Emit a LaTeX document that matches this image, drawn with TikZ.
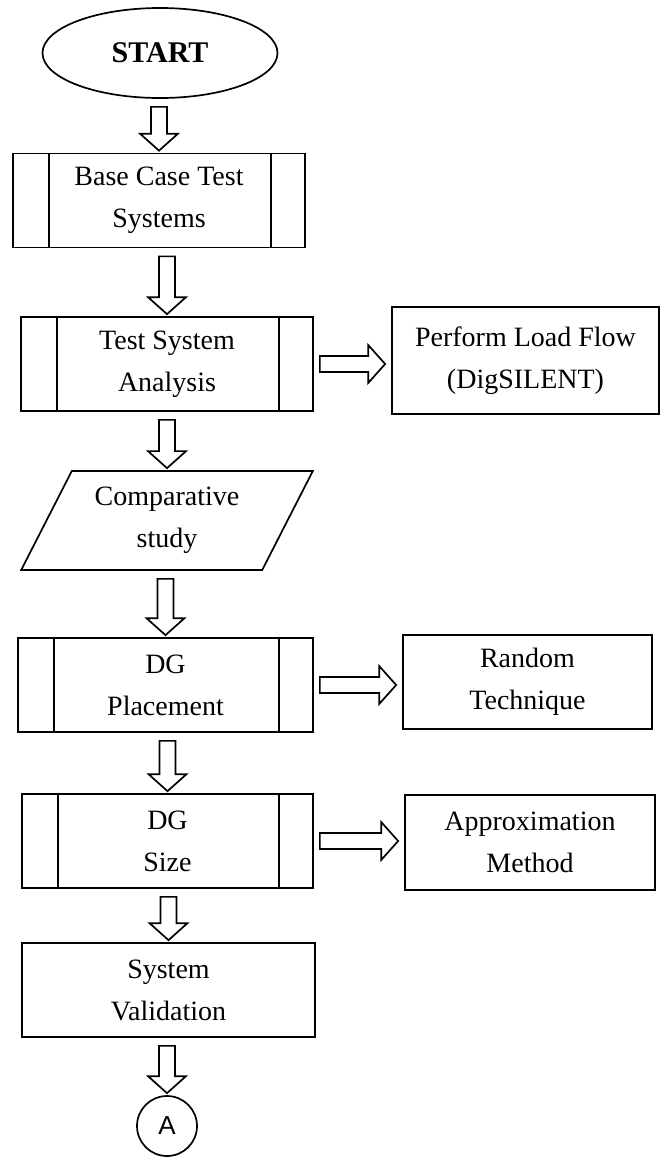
\documentclass[tikz,border=0pt]{standalone}
\usepackage{fontspec}
\setmainfont{Liberation Serif}
\newfontfamily\arialfont{Liberation Sans}
\usetikzlibrary{shapes.geometric,calc}

\newcommand\boxfont{\fontsize{14}{21}\selectfont}
% hollow block arrow pointing down, from #1 to #2
\newcommand\flowdown[2]{%
  \draw[flowline] let \p1=([yshift=-4pt]#1.south), \p2=([yshift=1pt]#2.north) in
    (\x2-4pt,\y1) -- (\x2-4pt,\y2+8.5pt) -- (\x2-9.5pt,\y2+8.5pt) -- (\x2,\y2)
    -- (\x2+9.5pt,\y2+8.5pt) -- (\x2+4pt,\y2+8.5pt) -- (\x2+4pt,\y1) -- cycle;}
% hollow block arrow pointing right, from #1 to #2
\newcommand\flowright[2]{%
  \draw[flowline] let \p1=([xshift=3pt]#1.east), \p2=([xshift=-3pt]#1.east -| #2.west) in
    (\x1,\y1-4pt) -- (\x2-8.5pt,\y1-4pt) -- (\x2-8.5pt,\y1-9.5pt) -- (\x2,\y1)
    -- (\x2-8.5pt,\y1+9.5pt) -- (\x2-8.5pt,\y1+4pt) -- (\x1,\y1+4pt) -- cycle;}

\tikzset{
  flowline/.style={line width=0.85pt},
  plainbox/.style={draw, flowline, rectangle, minimum width=146pt, minimum height=47pt,
    inner sep=0pt, align=center, font=\boxfont},
  procbox/.style={plainbox},
  terminal/.style={draw, flowline, ellipse, minimum width=117.5pt, minimum height=45pt,
    inner sep=0pt, font=\fontsize{15}{18}\selectfont\bfseries},
  iobox/.style={draw, flowline, trapezium, trapezium left angle=60, trapezium right angle=120,
    trapezium stretches=true, minimum width=146pt, minimum height=49.5pt,
    inner sep=0pt, align=center, font=\boxfont},
  connector/.style={draw, flowline, circle, minimum size=30pt, inner sep=0pt,
    font=\arialfont\fontsize{13}{15}\selectfont}
}

\begin{document}
\begin{tikzpicture}[x=0.5pt,y=-0.5pt]
\useasboundingbox (0,0) rectangle (661,1158);
% main column
\node[terminal] (start) at (160,53) {START};
\node[procbox] (base) at (159,200.5) {Base Case Test\\Systems};
\node[procbox] (test) at (167,364) {Test System\\Analysis};
\node[iobox] (comp) at (167,520.5) {Comparative\\study};
\node[procbox, minimum width=147.5pt] (place) at (165.5,685) {DG\\Placement};
\node[procbox, minimum width=145.5pt] (size) at (167.5,841) {DG\\Size};
\node[plainbox, minimum width=146.5pt] (valid) at (168.5,990) {System\\Validation};
\node[connector] (conn) at (167,1126) {A};
% side boxes
\node[plainbox, minimum width=133.5pt, minimum height=53.5pt] (flow) at (525.5,360.5) {Perform Load Flow\\(DigSILENT)};
\node[plainbox, minimum width=124.5pt] (random) at (527.5,682) {Random\\Technique};
\node[plainbox, minimum width=125pt, minimum height=47.5pt] (approx) at (530,842.5) {Approximation\\Method};
% inner bars of the process boxes
\foreach \n in {base,test,place,size}
  \draw[flowline] ([xshift=18.5pt]\n.north west) -- ([xshift=18.5pt]\n.south west)
                  ([xshift=-17.5pt]\n.north east) -- ([xshift=-17.5pt]\n.south east);
% block arrows
\flowdown{start}{base}
\flowdown{base}{test}
\flowdown{test}{comp}
\flowdown{comp}{place}
\flowdown{place}{size}
\flowdown{size}{valid}
\flowdown{valid}{conn}
\flowright{test}{flow}
\flowright{place}{random}
\flowright{size}{approx}
\end{tikzpicture}
\end{document}
